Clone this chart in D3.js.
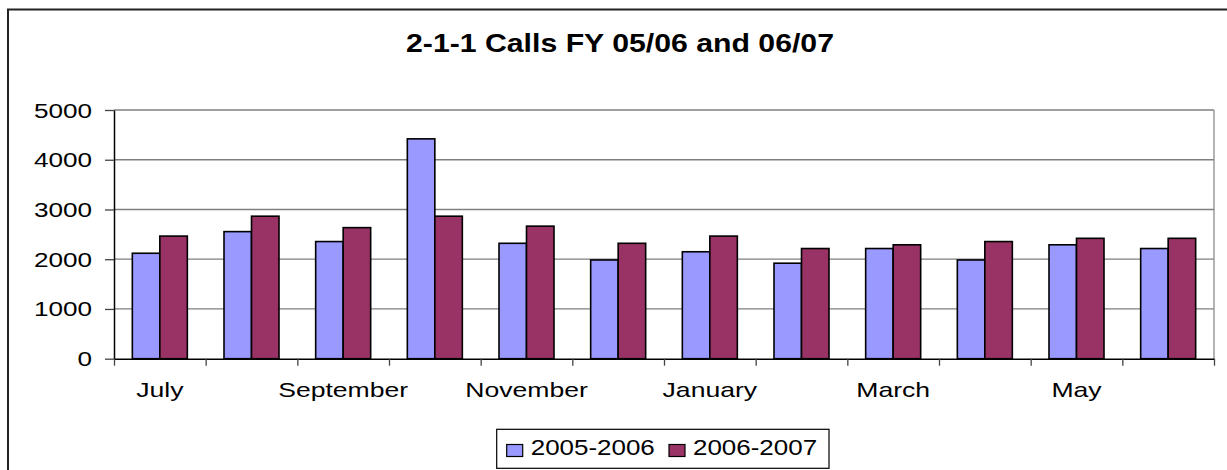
<!DOCTYPE html>
<html>
<head>
<meta charset="utf-8">
<script src="https://cdn.jsdelivr.net/npm/d3@7"></script>
<style>
  body { margin: 0; background: #fff; }
  text { font-family: Arial, "Liberation Sans", sans-serif; fill: #000; }
</style>
</head>
<body>
<div id="chart"></div>
<script>
// data
const months = ["July", "August", "September", "October", "November", "December",
                "January", "February", "March", "April", "May", "June"];
const seriesNames = ["2005-2006", "2006-2007"];
const calls0506 = [2120, 2555, 2355, 4420, 2320, 1985, 2150, 1920, 2215, 1985, 2290, 2215];
const calls0607 = [2465, 2865, 2635, 2865, 2665, 2320, 2465, 2215, 2290, 2355, 2420, 2420];
const yTicks = [0, 1000, 2000, 3000, 4000, 5000];
const colors = ["#9999ff", "#993366"];

const W = 1227, H = 470;
const plot = { left: 114, right: 1214, top: 110, bottom: 358.7 };

const svg = d3.select("#chart").append("svg")
  .attr("width", W).attr("height", H);

// outer chart frame (only top and left show in the crop)
svg.append("rect")
  .attr("x", 8).attr("y", 9.5)
  .attr("width", W + 20).attr("height", H + 20)
  .attr("fill", "none").attr("stroke", "#222").attr("stroke-width", 2);

// title
svg.append("text")
  .attr("transform", "translate(620,51.5) scale(1.21,1)")
  .attr("text-anchor", "middle")
  .style("font-size", "25px").style("font-weight", "bold")
  .text("2-1-1 Calls FY 05/06 and 06/07");

const y = d3.scaleLinear().domain([0, 5000]).range([plot.bottom, plot.top]);
const x0 = d3.scaleBand().domain(months).range([plot.left, plot.right]);
const bw = x0.bandwidth();
const x1 = d3.scaleBand().domain(seriesNames).range([bw * 0.2, bw * 0.8]);

// gridlines
svg.append("g")
  .selectAll("line")
  .data(yTicks.slice(1))
  .join("line")
  .attr("x1", plot.left).attr("x2", plot.right)
  .attr("y1", d => y(d)).attr("y2", d => y(d))
  .attr("stroke", "#7f7f7f").attr("stroke-width", 1.3);

// plot area right edge
svg.append("line")
  .attr("x1", plot.right).attr("x2", plot.right)
  .attr("y1", plot.top).attr("y2", plot.bottom)
  .attr("stroke", "#8c8c8c").attr("stroke-width", 1.3);

// bars
const rows = months.map((m, i) => ({ month: m, vals: [calls0506[i], calls0607[i]] }));
const grp = svg.append("g")
  .selectAll("g")
  .data(rows)
  .join("g")
  .attr("transform", d => `translate(${x0(d.month)},0)`);

grp.selectAll("rect")
  .data(d => d.vals.map((v, k) => ({ key: seriesNames[k], v, k })))
  .join("rect")
  .attr("x", d => x1(d.key))
  .attr("width", x1.bandwidth())
  .attr("y", d => y(d.v))
  .attr("height", d => y(0) - y(d.v))
  .attr("fill", d => colors[d.k])
  .attr("stroke", "#000").attr("stroke-width", 1.6);

// y axis
const yAxis = svg.append("g")
  .attr("transform", `translate(${plot.left},0)`)
  .call(d3.axisLeft(y).tickValues(yTicks).tickFormat(d3.format("d")).tickSize(9).tickSizeOuter(0));
yAxis.select(".domain").attr("stroke", "#000").attr("stroke-width", 1.5);
yAxis.selectAll(".tick line").attr("stroke", "#444").attr("stroke-width", 1.3);
yAxis.selectAll("text")
  .attr("x", null).attr("dy", null)
  .attr("transform", "translate(-22,7) scale(1.34,1)")
  .style("font-size", "19.5px");

// x axis: tick marks at band edges
const xEdge = d3.scaleLinear().domain([0, months.length]).range([plot.left, plot.right]);
const xTicks = svg.append("g")
  .attr("transform", `translate(0,${plot.bottom})`)
  .call(d3.axisBottom(xEdge).tickValues(d3.range(months.length + 1)).tickFormat("").tickSize(7).tickSizeOuter(0));
xTicks.select(".domain").attr("stroke", "#000").attr("stroke-width", 1.5);
xTicks.selectAll(".tick line").attr("stroke", "#444").attr("stroke-width", 1.3);

// x labels, every other month
const xLab = svg.append("g")
  .attr("transform", `translate(0,${plot.bottom})`)
  .call(d3.axisBottom(x0).tickSize(0).tickFormat((d, i) => i % 2 === 0 ? d : ""));
xLab.select(".domain").remove();
xLab.selectAll("text")
  .attr("y", null).attr("dy", null)
  .attr("transform", "translate(0,38) scale(1.33,1)")
  .style("font-size", "20px");

// legend
const lg = svg.append("g");
lg.append("rect")
  .attr("x", 496.7).attr("y", 429.3).attr("width", 332.3).attr("height", 39)
  .attr("fill", "#fff").attr("stroke", "#000").attr("stroke-width", 1.2);
const legendX = [506.7, 669];
seriesNames.forEach((s, k) => {
  lg.append("rect")
    .attr("x", legendX[k]).attr("y", 444.5).attr("width", 16).attr("height", 12)
    .attr("fill", colors[k]).attr("stroke", "#000").attr("stroke-width", 1.2);
  lg.append("text")
    .attr("transform", `translate(${legendX[k] + 24},455) scale(1.18,1)`)
    .style("font-size", "22px")
    .text(s);
});
</script>
</body>
</html>
